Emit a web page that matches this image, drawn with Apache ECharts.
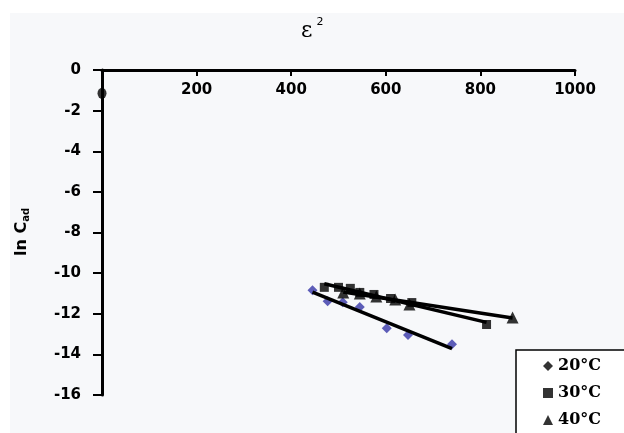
<!DOCTYPE html>
<html>
<head>
<meta charset="utf-8">
<script src="https://cdn.jsdelivr.net/npm/echarts@6/dist/echarts.min.js"></script>
<style>
  html, body { margin: 0; padding: 0; background: #ffffff; }
  #chart { width: 624px; height: 433px; }
</style>
</head>
<body>
<div id="chart"></div>
<script>
// Adsorption isotherm points: ε² against ln C_ad at three temperatures
const legendNames = ['20°C', '30°C', '40°C'];

const points20 = [[445, -10.84], [477, -11.38], [509, -11.43], [545, -11.67], [602, -12.71], [647, -13.05], [740, -13.5]];
const points30 = [[470, -10.7], [500, -10.7], [525, -10.75], [545, -10.95], [575, -11.05], [610, -11.25], [655, -11.45], [813, -12.53]];
const points40 = [[510, -10.95], [545, -11.0], [580, -11.15], [620, -11.3], [650, -11.55], [868, -12.18]];
const axisPoint = [[0, -1.15]];

const xTicks = [0, 200, 400, 600, 800, 1000];
const yTicks = [0, -2, -4, -6, -8, -10, -12, -14, -16];

// Least-squares trendline spanning the x range of a point set
function trend(pts) {
  const n = pts.length;
  let sx = 0, sy = 0;
  pts.forEach(p => { sx += p[0]; sy += p[1]; });
  const mx = sx / n, my = sy / n;
  let sxy = 0, sxx = 0;
  pts.forEach(p => { sxy += (p[0] - mx) * (p[1] - my); sxx += (p[0] - mx) * (p[0] - mx); });
  const b = sxy / sxx, a = my - b * mx;
  const xs = pts.map(p => p[0]);
  const x0 = Math.min(...xs), x1 = Math.max(...xs);
  return [[x0, a + b * x0], [x1, a + b * x1]];
}

const tickFont = { fontFamily: 'DejaVu Sans', fontWeight: 'bold', fontSize: 15, color: '#000' };

function trendSeries(pts, name) {
  return {
    name: name,
    type: 'line',
    data: trend(pts),
    symbol: 'none',
    silent: true,
    z: 5,
    lineStyle: { color: '#000', width: 3.5 }
  };
}

const chart = echarts.init(document.getElementById('chart'));
chart.setOption({
  animation: false,
  backgroundColor: 'transparent',
  graphic: [
    {
      type: 'rect', z: -10, silent: true,
      shape: { x: 10, y: 13, width: 614, height: 420 },
      style: { fill: '#f7f8fa' }
    },
    {
      type: 'text', left: 301, top: 17, silent: true,
      style: {
        text: '{e|ε}{s|2}',
        rich: {
          e: { fontFamily: 'DejaVu Serif', fontSize: 22, fill: '#000', verticalAlign: 'bottom' },
          s: { fontFamily: 'DejaVu Sans', fontSize: 11, fill: '#000', verticalAlign: 'top', padding: [0, 0, 14, 4] }
        }
      }
    },
    {
      type: 'text', x: 22, y: 232, rotation: Math.PI / 2, silent: true,
      style: {
        text: '{m|ln C}{s|ad}',
        align: 'center', verticalAlign: 'middle',
        rich: {
          m: { fontFamily: 'DejaVu Sans', fontWeight: 'bold', fontSize: 16, fill: '#000' },
          s: { fontFamily: 'DejaVu Sans', fontWeight: 'bold', fontSize: 10, fill: '#000', padding: [8, 0, 0, 0] }
        }
      }
    }
  ],
  grid: { left: 102, right: 49, top: 70, bottom: 38, containLabel: false },
  legend: {
    orient: 'vertical',
    left: 516, top: 350,
    width: 150, height: 140,
    padding: [8, 60, 30, 27],
    itemGap: 11,
    itemWidth: 10, itemHeight: 10,
    borderColor: '#000', borderWidth: 1.5,
    backgroundColor: '#ffffff',
    textStyle: { fontFamily: 'DejaVu Serif', fontWeight: 'bold', fontSize: 16, color: '#000' },
    data: [
      { name: legendNames[0], icon: 'diamond', itemStyle: { color: '#000' } },
      { name: legendNames[1], icon: 'rect', itemStyle: { color: '#000' } },
      { name: legendNames[2], icon: 'triangle', itemStyle: { color: '#000' } }
    ]
  },
  xAxis: {
    type: 'value',
    position: 'top',
    min: xTicks[0], max: xTicks[xTicks.length - 1], interval: 200,
    splitLine: { show: false },
    axisLine: { show: true, onZero: false, lineStyle: { color: '#000', width: 3 } },
    axisTick: { show: true, inside: true, length: 6, lineStyle: { color: '#000', width: 2 } },
    axisLabel: Object.assign({
      inside: true, margin: 13,
      formatter: v => (v === 0 ? '' : String(v))
    }, tickFont)
  },
  yAxis: {
    type: 'value',
    min: yTicks[yTicks.length - 1], max: yTicks[0], interval: 2,
    splitLine: { show: false },
    axisLine: { show: true, onZero: false, lineStyle: { color: '#000', width: 3 } },
    axisTick: { show: true, length: 9, lineStyle: { color: '#000', width: 2 } },
    axisLabel: Object.assign({ margin: 21 }, tickFont)
  },
  series: [
    {
      name: legendNames[0], type: 'scatter', data: points20,
      symbol: 'diamond', symbolSize: 10, z: 3,
      itemStyle: { color: '#3636a8' }
    },
    {
      name: legendNames[1], type: 'scatter', data: points30,
      symbol: 'rect', symbolSize: 9, z: 6,
      itemStyle: { color: '#000' }
    },
    {
      name: legendNames[2], type: 'scatter', data: points40,
      symbol: 'triangle', symbolSize: 12, z: 6,
      itemStyle: { color: '#000' }
    },
    trendSeries(points20, 'trend20'),
    trendSeries(points30, 'trend30'),
    trendSeries(points40, 'trend40'),
    {
      name: 'axisPoint', type: 'scatter', data: axisPoint,
      symbol: 'circle', symbolSize: [9, 11], z: 6,
      itemStyle: { color: '#000' }
    }
  ]
});
</script>
</body>
</html>
